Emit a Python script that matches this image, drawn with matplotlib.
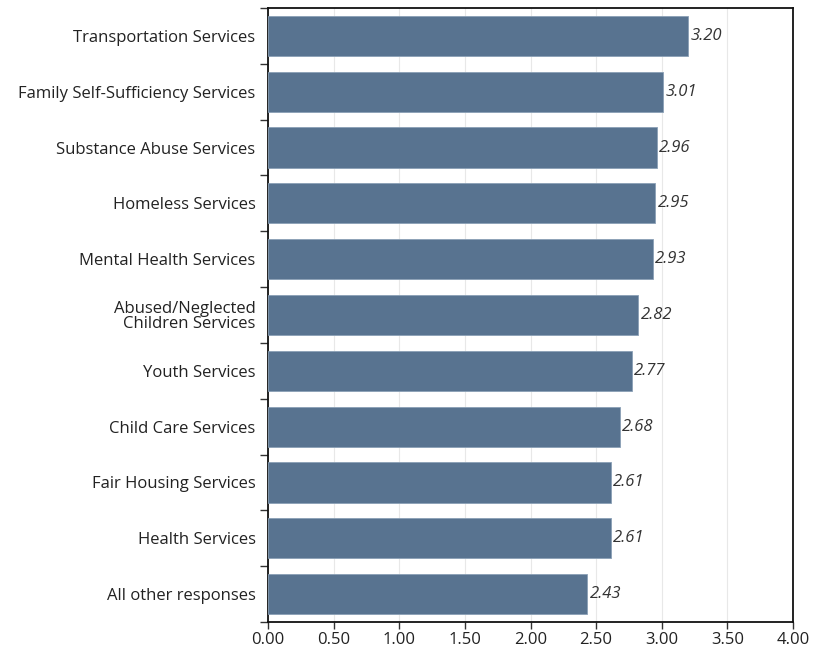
import matplotlib.pyplot as plt
import numpy as np

plt.rcParams['font.family'] = ['Open Sans', 'DejaVu Sans']

categories = ["Transportation Services", "Family Self-Sufficiency Services",
              "Substance Abuse Services", "Homeless Services",
              "Mental Health Services", "Abused/Neglected\nChildren Services",
              "Youth Services", "Child Care Services", "Fair Housing Services",
              "Health Services", "All other responses"]
values = [3.20, 3.01, 2.96, 2.95, 2.93, 2.82, 2.77, 2.68, 2.61, 2.61, 2.43]
ticks = [0.0, 0.5, 1.0, 1.5, 2.0, 2.5, 3.0, 3.5, 4.0]

fig = plt.figure(figsize=(8.15, 6.59), dpi=100)
ax = fig.add_axes([268 / 815, 1 - 622 / 659, 525 / 815, 614 / 659])

y = np.arange(len(categories))
ax.barh(y, values, height=0.72, color='#587390', edgecolor='#8aa0b6', linewidth=0.6, zorder=3)
for yi, v in zip(y, values):
    ax.text(v + 0.02, yi, f"{v:.2f}", va='center', ha='left', fontsize=12,
            style='italic', color='#333333', zorder=4)

ax.set_ylim(len(categories) - 0.5, -0.5)
ax.set_xlim(0, 4)
ax.set_xticks(ticks)
ax.set_xticklabels([f"{t:.2f}" for t in ticks], fontsize=12, color='#222222')
ax.set_yticks(y)
ax.set_yticklabels(categories, fontsize=12, color='#222222', linespacing=0.9)
ax.tick_params(axis='y', length=0, pad=9)
ax.set_yticks(np.arange(len(categories) + 1) - 0.5, minor=True)
ax.tick_params(axis='y', which='minor', length=6, width=1, color='#333333')
ax.tick_params(axis='x', length=5, width=1, color='#333333', pad=2)
ax.grid(axis='x', color='#e8e8e8', linewidth=0.8, zorder=0)
for s in ax.spines.values():
    s.set_linewidth(1.3)
    s.set_color('#111111')

fig.savefig('out.png', dpi=100)
